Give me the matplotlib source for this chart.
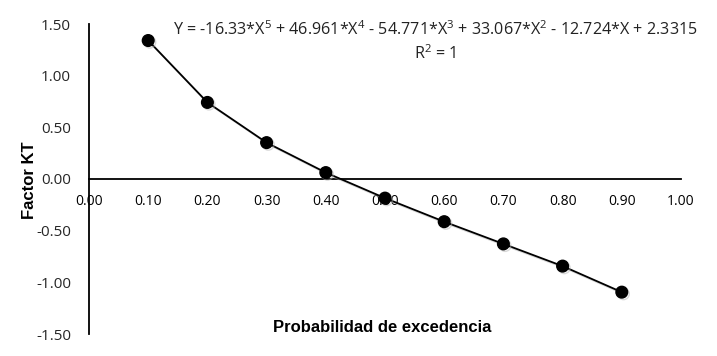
import matplotlib
matplotlib.use("Agg")
import matplotlib.pyplot as plt
import matplotlib.patheffects as pe
from matplotlib import font_manager

probabilidad = [0.10, 0.20, 0.30, 0.40, 0.50, 0.60, 0.70, 0.80, 0.90]
factor_kt = [1.340, 0.741, 0.352, 0.062, -0.185, -0.413, -0.628, -0.843, -1.095]
x_ticks = [0.0, 0.1, 0.2, 0.3, 0.4, 0.5, 0.6, 0.7, 0.8, 0.9, 1.0]
y_ticks = [-1.5, -1.0, -0.5, 0.0, 0.5, 1.0, 1.5]
equation = "Y = -16.33*X$^5$ + 46.961*X$^4$ - 54.771*X$^3$ + 33.067*X$^2$ - 12.724*X + 2.3315"
r2_text = "R$^2$ = 1"
x_label = "Probabilidad de excedencia"
y_label = "Factor KT"

names = {f.name for f in font_manager.fontManager.ttflist}
body_font = [f for f in ["Open Sans", "Liberation Sans", "DejaVu Sans"] if f in names]
label_font = [f for f in ["Liberation Sans Narrow", "Liberation Sans", "DejaVu Sans"] if f in names]
plt.rcParams["font.family"] = body_font
plt.rcParams["mathtext.fontset"] = "custom"
plt.rcParams["mathtext.rm"] = body_font[0]

fig = plt.figure(figsize=(7.17, 3.56), dpi=100)
ax = fig.add_axes([89/717, 1-334/356, (681-89)/717, (334-24)/356])

shadow = [pe.SimpleLineShadow(offset=(1.2, -1.2), shadow_color="0.7", alpha=0.5), pe.Normal()]
ax.plot(probabilidad, factor_kt, color="black", lw=1.3, marker="o", ms=8.4,
        mfc="black", mec="black", path_effects=shadow, zorder=3, clip_on=False)

ax.set_xlim(0, 1.0)
ax.set_ylim(-1.5, 1.5)
ax.set_xticks(x_ticks)
ax.set_yticks(y_ticks)
ax.set_xticklabels([f"{v:.2f}" for v in x_ticks], fontsize=11, color="#262626")
ax.set_yticklabels([f"{v:.2f}" for v in y_ticks], fontsize=11, color="#262626")
ax.tick_params(length=0)
ax.tick_params(axis="x", pad=11)
ax.tick_params(axis="y", pad=13)

for s in ["top", "right"]:
    ax.spines[s].set_visible(False)
ax.spines["bottom"].set_position(("data", 0))
ax.spines["left"].set_linewidth(1.3)
ax.spines["bottom"].set_linewidth(1.3)

fig.text(382/717, 1-328/356, x_label, ha="center", va="center", fontsize=12,
         fontweight="bold", family=label_font)
fig.text(30/717, 1-180/356, y_label, ha="center", va="center", fontsize=12,
         fontweight="bold", rotation=90, family=label_font)

fig.text(435/717, 1-30/356, equation, ha="center", va="center", fontsize=11.6, color="#222222")
fig.text(435/717, 1-54/356, r2_text, ha="center", va="center", fontsize=11.6, color="#222222")

fig.savefig("out.png", dpi=100)
